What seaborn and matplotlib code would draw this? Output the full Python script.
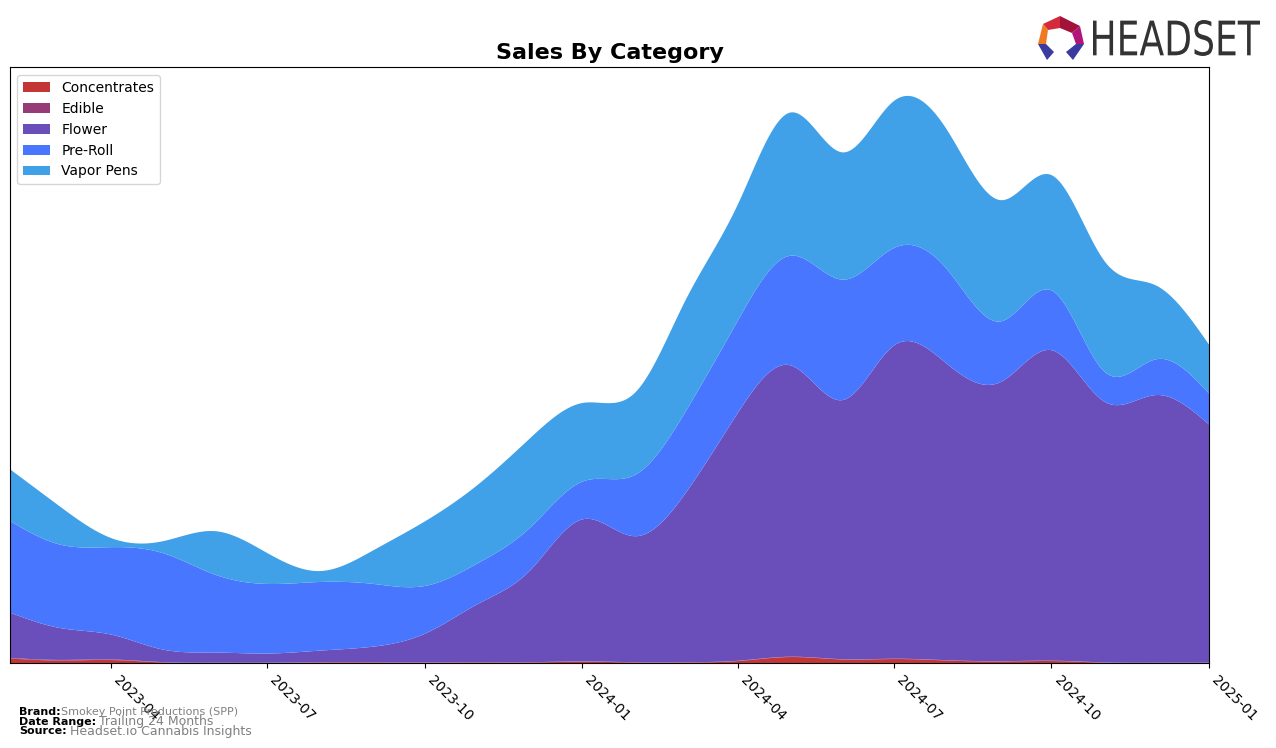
import numpy as np
import pandas as pd
import matplotlib
matplotlib.use("Agg")
import matplotlib.pyplot as plt
import matplotlib.dates as mdates
from matplotlib.patches import Polygon, PathPatch
from matplotlib.textpath import TextPath
from matplotlib.font_manager import FontProperties
from matplotlib.transforms import Affine2D
import seaborn as sns

# monthly sales, in $ thousands
months = pd.date_range("2023-02-01", "2025-01-01", freq="MS")
categories = ["Concentrates", "Edible", "Flower", "Pre-Roll", "Vapor Pens"]
concentrates = [5, 3, 3.5, 1, 0.5, 0.5, 1, 1, 0.8, 1, 1, 1.8,
                1, 1, 2.5, 6.5, 4, 4.5, 3, 2, 2.5, 0.8, 0.5, 0.5]
edible = [0.6, 0.6, 0.5, 0.4, 0.3, 0.3, 0.3, 0.3, 0.3, 0.3, 0.3, 0.3,
          0.3, 0.3, 0.3, 0.3, 0.3, 0.3, 0.3, 0.3, 0.3, 0.3, 0.3, 0.3]
flower = [45.4, 32.4, 25, 12.6, 10.2, 9.2, 11.7, 15.7, 28.9, 58.7, 91.7, 142.9,
          126.7, 169.7, 250.2, 293.2, 260.7, 315.2, 297.7, 280.7, 312.2, 261.9, 269.2, 239.2]
pre_roll = [92, 84, 88, 97, 78, 70, 69, 63, 48, 41, 43, 38,
            62, 82, 93, 110, 121, 98, 95, 61, 60, 30, 36, 31]
vapor_pens = [52, 39, 9, 12, 44, 31, 11, 34, 65, 79, 90, 79,
              83, 112, 117, 144, 128, 148, 140, 122, 116, 111, 74, 49]

colors = ["#C43636", "#973B77", "#6A4FBB", "#4876FF", "#40A0E8"]


def smooth(x, y, xs):
    # natural cubic spline through the monthly points
    y = np.asarray(y, dtype=float)
    n = len(x)
    h = np.diff(x)
    A = np.zeros((n, n))
    r = np.zeros(n)
    A[0, 0] = A[-1, -1] = 1
    for i in range(1, n - 1):
        A[i, i - 1] = h[i - 1]
        A[i, i] = 2 * (h[i - 1] + h[i])
        A[i, i + 1] = h[i]
        r[i] = 3 * ((y[i + 1] - y[i]) / h[i] - (y[i] - y[i - 1]) / h[i - 1])
    c = np.linalg.solve(A, r)
    b = (y[1:] - y[:-1]) / h - h * (2 * c[:-1] + c[1:]) / 3
    d = (c[1:] - c[:-1]) / (3 * h)
    idx = np.clip(np.searchsorted(x, xs) - 1, 0, n - 2)
    dx = xs - x[idx]
    return y[idx] + b[idx] * dx + c[idx] * dx ** 2 + d[idx] * dx ** 3


sns.set_style("ticks", rc={"axes.edgecolor": "black", "text.color": "black",
                           "xtick.color": "black", "ytick.color": "black"})
plt.rcParams["font.family"] = ["DejaVu Sans"]

W, H = 1276, 748
fig = plt.figure(figsize=(W / 100, H / 100), dpi=100)
ax = fig.add_axes([10 / W, 1 - 663 / H, 1199 / W, 596 / H])

x = mdates.date2num(months)
xs = np.linspace(x[0], x[-1], 800)
series = [concentrates, edible, flower, pre_roll, vapor_pens]
ys = [np.clip(smooth(x, s, xs), 0, None) for s in series]

ax.stackplot(xs, *ys, labels=categories, colors=colors, linewidth=0)
ax.set_xlim(x[0], x[-1])
ax.set_ylim(0, np.sum(ys, axis=0).max() * 1.05)
ax.set_yticks([])

ax.xaxis.set_major_locator(mdates.MonthLocator(bymonth=[1, 4, 7, 10]))
ax.xaxis.set_major_formatter(mdates.DateFormatter("%Y-%m"))
plt.setp(ax.get_xticklabels(), rotation=-45, ha="left", fontsize=10)

ax.set_title("Sales By Category", fontsize=16, weight="bold", pad=6)
ax.legend(loc="upper left", fontsize=10, frameon=True, bbox_to_anchor=(0, 0.998))

# footer
fig.text(19 / W, 1 - 712 / H, "Brand:", fontsize=8, weight="bold", va="center")
fig.text(61 / W, 1 - 712 / H, "Smokey Point Productions (SPP)", fontsize=8,
         color="gray", va="center")
fig.text(19 / W, 1 - 722 / H, "Date Range:", fontsize=8, weight="bold", va="center")
fig.text(99 / W, 1 - 722 / H, "Trailing 24 Months", fontsize=9, color="gray", va="center")
fig.text(19 / W, 1 - 731 / H, "Source:", fontsize=8, weight="bold", va="center")
fig.text(70 / W, 1 - 731 / H, "Headset.io Cannabis Insights", fontsize=9,
         color="gray", va="center")

# logo: condensed wordmark squeezed into its box
tp = TextPath((0, 0), "HEADSET", size=40, prop=FontProperties(family="DejaVu Sans"))
ext = tp.get_extents()
sx = (1260 - 1093) / ext.width
sy = (56 - 20) / ext.height
tr = Affine2D().translate(-ext.x0, -ext.y0).scale(sx, sy).translate(1093, H - 56)
fig.patches.append(PathPatch(tr.transform_path(tp), facecolor="#333333",
                             edgecolor="none", transform=None))
logo = [
    ([(1060, 16), (1080, 26), (1072, 33), (1060, 28)], "#A3123A"),
    ([(1060, 16), (1043, 24), (1048, 30), (1060, 28)], "#D42A3A"),
    ([(1080, 26), (1084, 44), (1076, 44), (1072, 33)], "#B0157A"),
    ([(1043, 24), (1038, 44), (1046, 44), (1048, 30)], "#F07A22"),
    ([(1038, 44), (1046, 44), (1054, 52), (1047, 60)], "#3A3AA0"),
    ([(1084, 44), (1076, 44), (1066, 52), (1073, 60)], "#3A3AA0"),
]
for pts, col in logo:
    fig.patches.append(Polygon([(px / W, 1 - py / H) for px, py in pts], closed=True,
                               transform=fig.transFigure, facecolor=col, edgecolor="none"))

fig.savefig("out.png", dpi=100)
